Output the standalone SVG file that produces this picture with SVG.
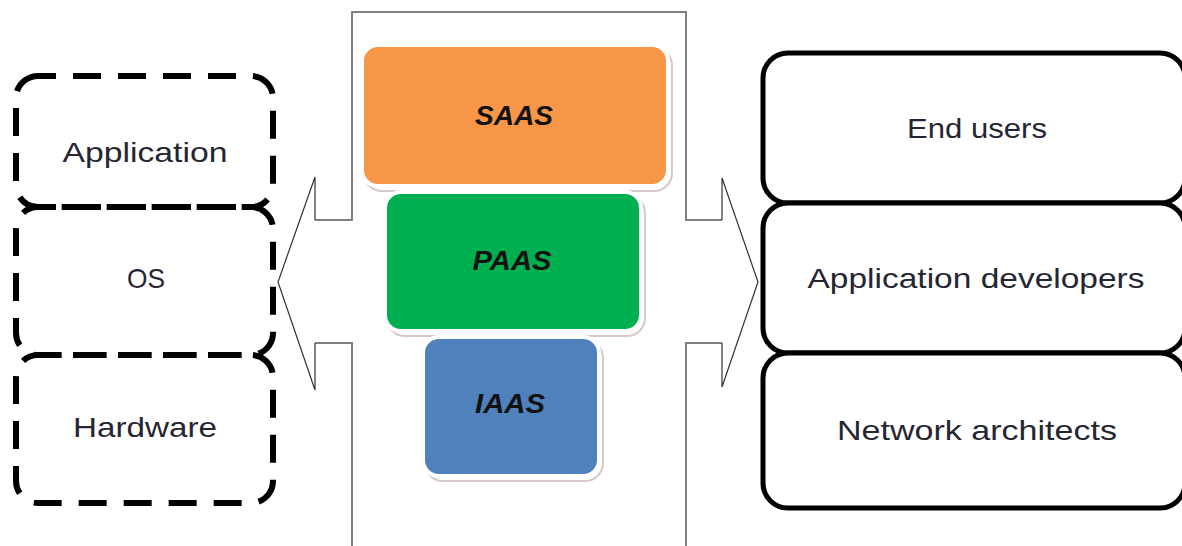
<svg xmlns="http://www.w3.org/2000/svg" width="1182" height="546" viewBox="0 0 1182 546">
<style>
.lbl{font-family:"Liberation Sans","Open Sans",sans-serif;font-size:28px;fill:#262633;text-anchor:middle}
.svc{font-family:"Liberation Sans","Open Sans",sans-serif;font-size:27px;font-weight:bold;font-style:italic;fill:#111;text-anchor:middle}
.dash{fill:none;stroke:#000;stroke-width:6;stroke-dasharray:28 17;stroke-dashoffset:10}
.solid{fill:#fff;stroke:#000;stroke-width:5}
.shadow{fill:#fff;stroke:#d9c8c8;stroke-width:2}
.frame{fill:none;stroke:#808080;stroke-width:2}
.tip{fill:none;stroke:#333;stroke-width:1.2}
</style>
<rect width="1182" height="546" fill="#fff"/>
<g id="connectors">
<path class="frame" d="M352,546 V343 H315 M315,220 H352 V12 H686 V220 H722 M722,343 H686 V546"/>
<path class="tip" d="M315,220 V177 L278,282 L315,390 V343"/>
<path class="tip" d="M722,220 V178 L758,282 L722,387 V343"/>
</g>
<g id="node-application">
<rect class="dash" x="16" y="76" width="257" height="131" rx="22"/>
<text class="lbl" x="145" y="162" textLength="165" lengthAdjust="spacingAndGlyphs">Application</text>
</g>
<g id="node-os">
<rect class="dash" x="16" y="207" width="257" height="148" rx="22"/>
<text class="lbl" x="146" y="288" textLength="38" lengthAdjust="spacingAndGlyphs">OS</text>
</g>
<g id="node-hardware">
<rect class="dash" x="16" y="355" width="257" height="148" rx="22"/>
<text class="lbl" x="145" y="437" textLength="144" lengthAdjust="spacingAndGlyphs">Hardware</text>
</g>
<g id="node-saas">
<rect class="shadow" x="364" y="48" width="308" height="143" rx="18"/>
<rect x="362" y="45" width="306" height="141" rx="16" fill="#F79646" stroke="#fff" stroke-width="4"/>
<text class="svc" x="514" y="125" textLength="78" lengthAdjust="spacingAndGlyphs">SAAS</text>
</g>
<g id="node-paas">
<rect class="shadow" x="387" y="195" width="258" height="141" rx="18"/>
<rect x="385" y="192" width="256" height="139" rx="16" fill="#00B050" stroke="#fff" stroke-width="4"/>
<text class="svc" x="512" y="270" textLength="79" lengthAdjust="spacingAndGlyphs">PAAS</text>
</g>
<g id="node-iaas">
<rect class="shadow" x="425" y="340" width="178" height="141" rx="18"/>
<rect x="423" y="337" width="176" height="139" rx="16" fill="#4F81BD" stroke="#fff" stroke-width="4"/>
<text class="svc" x="510" y="413" textLength="70" lengthAdjust="spacingAndGlyphs">IAAS</text>
</g>
<g id="node-end-users">
<rect class="solid" x="763" y="53" width="422" height="150" rx="25"/>
<text class="lbl" x="977" y="138" textLength="140" lengthAdjust="spacingAndGlyphs">End users</text>
</g>
<g id="node-app-devs">
<rect class="solid" x="763" y="203" width="422" height="150" rx="25"/>
<text class="lbl" x="976" y="288" textLength="337" lengthAdjust="spacingAndGlyphs">Application developers</text>
</g>
<g id="node-net-arch">
<rect class="solid" x="763" y="353" width="422" height="155" rx="25"/>
<text class="lbl" x="977" y="440" textLength="280" lengthAdjust="spacingAndGlyphs">Network architects</text>
</g>
</svg>
